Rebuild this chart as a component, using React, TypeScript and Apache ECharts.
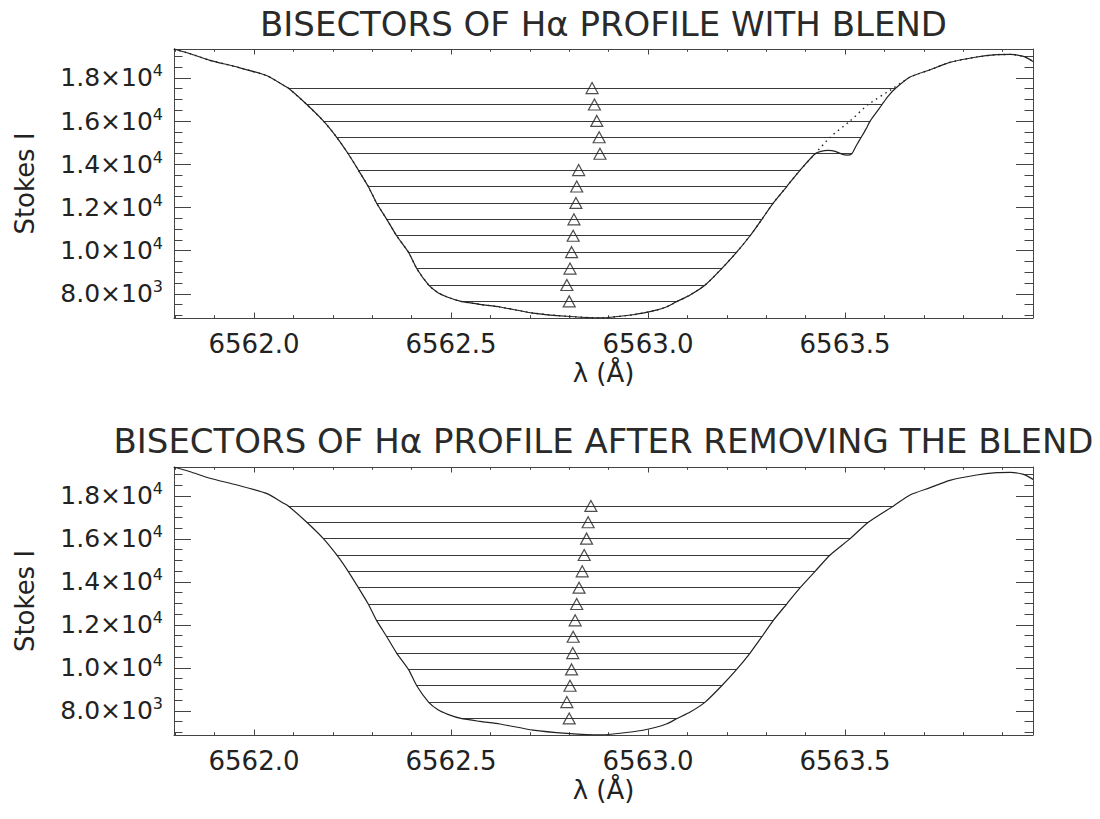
import React, { useEffect, useRef } from "react";
import * as echarts from "echarts";

// Axis extents (wavelength in Å, Stokes I in counts)
const LAMBDA_MIN = 6561.797;
const LAMBDA_MAX = 6563.977;
const STOKES_MIN = 6880;
const STOKES_MAX = 19340;

const xMajorTicks = [6562.0, 6562.5, 6563.0, 6563.5];
const xMinorTicks = [
  6561.8, 6561.9, 6562.1, 6562.2, 6562.3, 6562.4, 6562.6, 6562.7, 6562.8,
  6562.9, 6563.1, 6563.2, 6563.3, 6563.4, 6563.6, 6563.7, 6563.8, 6563.9,
];
const yMajorTicks = [8000, 10000, 12000, 14000, 16000, 18000];
const yMinorTicks = [
  7000, 7500, 8500, 9000, 9500, 10500, 11000, 11500, 12500, 13000, 13500,
  14500, 15000, 15500, 16500, 17000, 17500, 18500, 19000,
];

// Hα profile with the blend removed
const profileLambda = [
  6561.797, 6561.838, 6561.888, 6561.957, 6562.033, 6562.074, 6562.087,
  6562.134, 6562.176, 6562.21, 6562.239, 6562.265, 6562.29, 6562.311,
  6562.337, 6562.362, 6562.392, 6562.413, 6562.443, 6562.467, 6562.492,
  6562.525, 6562.574, 6562.624, 6562.708, 6562.794, 6562.878, 6562.962,
  6563.018, 6563.048, 6563.074, 6563.107, 6563.145, 6563.187, 6563.225,
  6563.259, 6563.289, 6563.318, 6563.352, 6563.386, 6563.424, 6563.462,
  6563.513, 6563.559, 6563.623, 6563.665, 6563.716, 6563.766, 6563.834,
  6563.885, 6563.919, 6563.953, 6563.977,
];
const profileClean = [
  19340, 19120, 18816, 18505, 18100, 17670, 17530, 16770, 16010, 15250,
  14490, 13730, 12970, 12210, 11450, 10690, 9930, 9170, 8410, 8050, 7840,
  7650, 7510, 7390, 7110, 6960, 6885, 7030, 7230, 7400, 7650, 7950, 8410,
  9170, 9930, 10690, 11450, 12210, 12970, 13730, 14490, 15250, 16010, 16770,
  17530, 18042, 18380, 18719, 18969, 19076, 19090, 18997, 18765,
];

// Red wing where the blend line distorts the observed profile
const BLEND_FROM = 6563.424;
const BLEND_TO = 6563.665;
const blendLambda = [
  6563.439, 6563.457, 6563.475, 6563.492, 6563.505, 6563.517, 6563.528,
  6563.541, 6563.553, 6563.564, 6563.579, 6563.594, 6563.609, 6563.629,
];
const blendIntensity = [
  14600, 14640, 14600, 14470, 14425, 14490, 14850, 15250, 15630, 16010,
  16390, 16770, 17150, 17530,
];

// Bisector levels and the wing positions at each level
const bisectorLevels = [
  17530, 16770, 16010, 15250, 14490, 13730, 12970, 12210, 11450, 10690, 9930,
  9170, 8410, 7650,
];
const wingBlue = [
  6562.087, 6562.134, 6562.176, 6562.21, 6562.239, 6562.265, 6562.29,
  6562.311, 6562.337, 6562.362, 6562.392, 6562.413, 6562.443, 6562.525,
];
const wingRedBlend = [
  6563.629, 6563.594, 6563.564, 6563.541, 6563.517, 6563.386, 6563.352,
  6563.318, 6563.289, 6563.259, 6563.225, 6563.187, 6563.145, 6563.074,
];
const wingRedClean = [
  6563.623, 6563.559, 6563.513, 6563.462, 6563.424, 6563.386, 6563.352,
  6563.318, 6563.289, 6563.259, 6563.225, 6563.187, 6563.145, 6563.074,
];
const bisectorBlend = [
  6562.858, 6562.864, 6562.87, 6562.876, 6562.878, 6562.824, 6562.819,
  6562.817, 6562.812, 6562.81, 6562.806, 6562.802, 6562.794, 6562.8,
];
const bisectorClean = [
  6562.855, 6562.848, 6562.844, 6562.838, 6562.833, 6562.825, 6562.819,
  6562.815, 6562.81, 6562.809, 6562.806, 6562.802, 6562.794, 6562.8,
];

const panelTitles = [
  "BISECTORS OF Hα PROFILE WITH BLEND",
  "BISECTORS OF Hα PROFILE AFTER REMOVING THE BLEND",
];

const FONT = "DejaVu Sans";
const INK = "#222";
const FRAME = "#444";
const GRID_LEFT = 174;
const GRID_WIDTH = 859;
const panels = [
  { top: 49, height: 269, titleY: 25 },
  { top: 467, height: 268, titleY: 442 },
];

const cleanPairs = profileLambda.map((l, i) => [l, profileClean[i]]);
const blendPairs = [
  ...cleanPairs.filter((p) => p[0] <= BLEND_FROM),
  ...blendLambda.map((l, i) => [l, blendIntensity[i]]),
  ...cleanPairs.filter((p) => p[0] >= BLEND_TO),
];

function yLabel(v: number) {
  const e = Math.floor(Math.log10(v) + 1e-9);
  const m = v / Math.pow(10, e);
  return `{m|${m.toFixed(1)}×10}{e|${e}}`;
}

function xAxesFor(g: number) {
  const base = {
    gridIndex: g,
    type: "value" as const,
    min: LAMBDA_MIN,
    max: LAMBDA_MAX,
    splitLine: { show: false },
    axisLine: { show: true, onZero: false, lineStyle: { color: FRAME, width: 1 } },
  };
  const major = {
    show: true,
    inside: true,
    length: 5.5,
    customValues: xMajorTicks,
    lineStyle: { color: FRAME, width: 1 },
  };
  const minor = {
    show: true,
    inside: true,
    length: 2.8,
    customValues: xMinorTicks,
    lineStyle: { color: FRAME, width: 1 },
  };
  return [
    {
      ...base,
      position: "bottom",
      axisTick: major,
      axisLabel: {
        show: true,
        customValues: xMajorTicks,
        formatter: (v: number) => v.toFixed(1),
        margin: 13,
        fontSize: 26,
        fontFamily: FONT,
        color: INK,
      },
      name: "λ (Å)",
      nameLocation: "middle",
      nameGap: 42,
      nameTextStyle: { fontSize: 26, fontFamily: FONT, color: INK },
    },
    { ...base, position: "bottom", axisLine: { show: false }, axisTick: minor, axisLabel: { show: false } },
    { ...base, position: "top", axisTick: major, axisLabel: { show: false } },
    { ...base, position: "top", axisLine: { show: false }, axisTick: minor, axisLabel: { show: false } },
  ];
}

function yAxesFor(g: number) {
  const base = {
    gridIndex: g,
    type: "value" as const,
    min: STOKES_MIN,
    max: STOKES_MAX,
    splitLine: { show: false },
    axisLine: { show: true, onZero: false, lineStyle: { color: FRAME, width: 1 } },
  };
  const major = {
    show: true,
    inside: true,
    length: 17,
    customValues: yMajorTicks,
    lineStyle: { color: FRAME, width: 1 },
  };
  const minor = {
    show: true,
    inside: true,
    length: 8.5,
    customValues: yMinorTicks,
    lineStyle: { color: FRAME, width: 1 },
  };
  return [
    {
      ...base,
      position: "left",
      axisTick: major,
      axisLabel: {
        show: true,
        customValues: yMajorTicks,
        formatter: yLabel,
        margin: 11,
        color: INK,
        fontFamily: FONT,
        rich: {
          m: { fontSize: 25, fontFamily: FONT, color: INK, lineHeight: 30 },
          e: { fontSize: 16, fontFamily: FONT, color: INK, lineHeight: 15, verticalAlign: "top" },
        },
      },
      name: "Stokes I",
      nameLocation: "middle",
      nameGap: 136,
      nameRotate: 90,
      nameTextStyle: { fontSize: 26, fontFamily: FONT, color: INK },
    },
    { ...base, position: "left", axisLine: { show: false }, axisTick: minor, axisLabel: { show: false } },
    { ...base, position: "right", axisTick: major, axisLabel: { show: false } },
    { ...base, position: "right", axisLine: { show: false }, axisTick: minor, axisLabel: { show: false } },
  ];
}

function panelSeries(g: number, profile: number[][], overlay: number[][] | null, wingRed: number[], bisector: number[]) {
  const ax = { xAxisIndex: g * 4, yAxisIndex: g * 4 };
  const list: any[] = [
    {
      ...ax,
      type: "lines",
      coordinateSystem: "cartesian2d",
      silent: true,
      z: 2,
      lineStyle: { color: "#3a3a3a", width: 1, opacity: 1 },
      data: bisectorLevels.map((lv, i) => ({ coords: [[wingBlue[i], lv], [wingRed[i], lv]] })),
    },
    {
      ...ax,
      type: "line",
      silent: true,
      z: 3,
      showSymbol: false,
      symbol: "none",
      smooth: 0.2,
      lineStyle: { color: INK, width: 1.2 },
      data: profile,
    },
  ];
  if (overlay) {
    list.push({
      ...ax,
      type: "line",
      silent: true,
      z: 4,
      showSymbol: false,
      symbol: "none",
      smooth: 0.2,
      lineStyle: { color: INK, width: 1.4, type: [1.5, 4] },
      data: overlay,
    });
  }
  list.push({
    ...ax,
    type: "scatter",
    silent: true,
    z: 5,
    symbol: "triangle",
    symbolSize: [12, 11],
    itemStyle: { color: "rgba(255,255,255,0)", borderColor: INK, borderWidth: 1.2 },
    data: bisector.map((b, i) => [b, bisectorLevels[i]]),
  });
  return list;
}

export default function App() {
  const ref = useRef<HTMLDivElement>(null);

  useEffect(() => {
    if (!ref.current) return;
    const chart = echarts.init(ref.current, null, { renderer: "svg" });
    chart.setOption({
      animation: false,
      backgroundColor: "#ffffff",
      textStyle: { fontFamily: FONT },
      grid: panels.map((p) => ({ left: GRID_LEFT, width: GRID_WIDTH, top: p.top, height: p.height, containLabel: false })),
      xAxis: [...xAxesFor(0), ...xAxesFor(1)],
      yAxis: [...yAxesFor(0), ...yAxesFor(1)],
      series: [
        ...panelSeries(0, blendPairs, cleanPairs, wingRedBlend, bisectorBlend),
        ...panelSeries(1, cleanPairs, null, wingRedClean, bisectorClean),
      ],
      graphic: panels.map((p, i) => ({
        type: "text",
        x: GRID_LEFT + GRID_WIDTH / 2,
        y: p.titleY,
        scaleX: 1.03,
        style: {
          text: panelTitles[i],
          fontSize: 33,
          fontFamily: FONT,
          fill: "#2a2a2a",
          align: "center",
          verticalAlign: "middle",
          textAlign: "center",
          textVerticalAlign: "middle",
        },
      })),
    });
    return () => chart.dispose();
  }, []);

  return (
    <div
      ref={ref}
      style={{ position: "fixed", left: 0, top: 0, width: 1100, height: 819, background: "#fff" }}
    />
  );
}
